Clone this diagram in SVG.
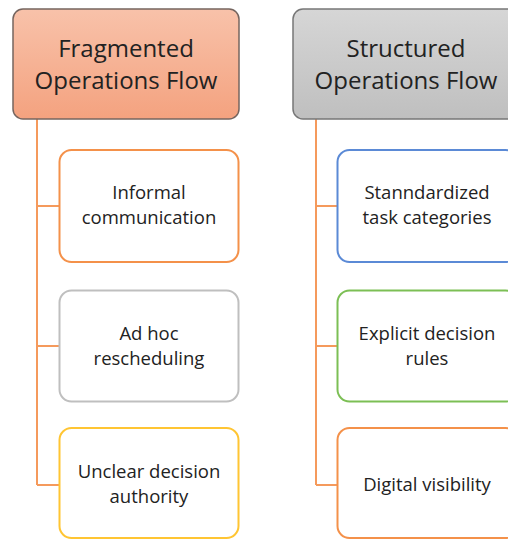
<svg xmlns="http://www.w3.org/2000/svg" width="508" height="539" viewBox="0 0 508 539">
  <defs>
    <linearGradient id="gradOrange" x1="0" y1="0" x2="0" y2="1">
      <stop offset="0" stop-color="#f8c2aa"/>
      <stop offset="1" stop-color="#f4a27f"/>
    </linearGradient>
    <linearGradient id="gradGray" x1="0" y1="0" x2="0" y2="1">
      <stop offset="0" stop-color="#d6d6d6"/>
      <stop offset="1" stop-color="#bfbfbf"/>
    </linearGradient>
  </defs>
  <style>
    .head { stroke: #75655f; stroke-width: 1.5; }
    .head.gray { stroke: #777777; }
    .child { fill: #ffffff; stroke-width: 2; }
    .htxt { font-family: "Open Sans", "Liberation Sans", sans-serif; font-size: 24px; fill: #222222; text-anchor: middle; }
    .ctxt { font-family: "Open Sans", "Liberation Sans", sans-serif; font-size: 18.5px; fill: #222222; text-anchor: middle; }
    .conn { fill: none; stroke: #f59a5c; stroke-width: 2; }
  </style>

  <!-- connectors -->
  <g id="connectors">
    <path class="conn" d="M37 119 V485 M37 206 H59 M37 346 H59 M37 485 H59"/>
    <path class="conn" d="M316 119 V485 M316 206 H337 M316 346 H337 M316 485 H337"/>
  </g>

  <!-- left column -->
  <g id="fragmented-header">
    <rect class="head" x="13" y="9" width="226" height="110" rx="10" fill="url(#gradOrange)"/>
    <text class="htxt" x="126" y="57">Fragmented</text>
    <text class="htxt" x="126" y="89">Operations Flow</text>
  </g>
  <g id="informal-communication">
    <rect class="child" x="59.5" y="150" width="179" height="112" rx="12" stroke="#f4914a"/>
    <text class="ctxt" x="149" y="198.5">Informal</text>
    <text class="ctxt" x="149" y="224">communication</text>
  </g>
  <g id="ad-hoc-rescheduling">
    <rect class="child" x="59.5" y="290.5" width="179" height="111" rx="12" stroke="#bfbfbf"/>
    <text class="ctxt" x="149" y="339.5">Ad hoc</text>
    <text class="ctxt" x="149" y="365">rescheduling</text>
  </g>
  <g id="unclear-decision-authority">
    <rect class="child" x="59.5" y="428" width="179" height="110" rx="12" stroke="#ffc533"/>
    <text class="ctxt" x="149" y="477.5">Unclear decision</text>
    <text class="ctxt" x="149" y="503">authority</text>
  </g>

  <!-- right column -->
  <g id="structured-header">
    <rect class="head gray" x="293" y="9" width="226" height="110" rx="10" fill="url(#gradGray)"/>
    <text class="htxt" x="406" y="57">Structured</text>
    <text class="htxt" x="406" y="89">Operations Flow</text>
  </g>
  <g id="standardized-task-categories">
    <rect class="child" x="337.5" y="150" width="180" height="112" rx="12" stroke="#5b8ad6"/>
    <text class="ctxt" x="427" y="198.5">Stanndardized</text>
    <text class="ctxt" x="427" y="224">task categories</text>
  </g>
  <g id="explicit-decision-rules">
    <rect class="child" x="337.5" y="290.5" width="180" height="111" rx="12" stroke="#7cbf55"/>
    <text class="ctxt" x="427" y="339.5">Explicit decision</text>
    <text class="ctxt" x="427" y="365">rules</text>
  </g>
  <g id="digital-visibility">
    <rect class="child" x="337.5" y="428" width="180" height="110" rx="12" stroke="#f4914a"/>
    <text class="ctxt" x="427" y="490.5">Digital visibility</text>
  </g>
</svg>
